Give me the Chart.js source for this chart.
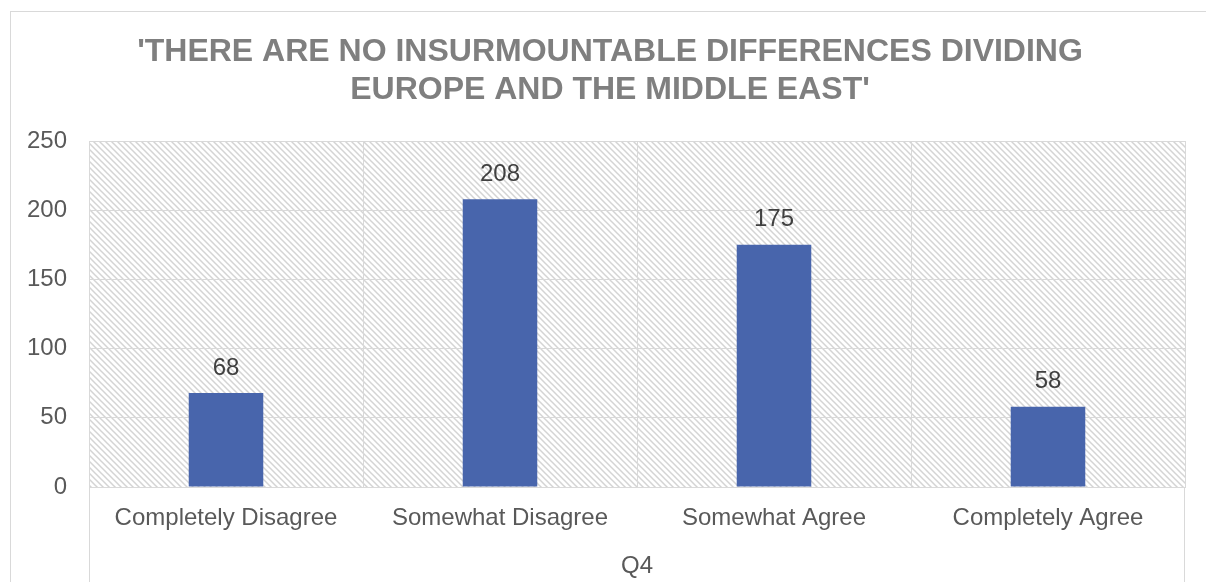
<!DOCTYPE html>
<html>
<head>
<meta charset="utf-8">
<style>
  html, body { margin: 0; padding: 0; background: #ffffff; }
  #wrap { position: relative; width: 1206px; height: 582px; }
</style>
<script src="https://cdn.jsdelivr.net/npm/chart.js@4/dist/chart.umd.min.js"></script>
</head>
<body>
<div id="wrap"><canvas id="chart" width="1206" height="582"></canvas></div>
<script>
// Survey responses for question Q4
const categories = ['Completely Disagree', 'Somewhat Disagree', 'Somewhat Agree', 'Completely Agree'];
const counts = [68, 208, 175, 58];
const yTicks = [0, 50, 100, 150, 200, 250];
const titleLines = ["'THERE ARE NO INSURMOUNTABLE DIFFERENCES DIVIDING", "EUROPE AND THE MIDDLE EAST'"];
const axisTitle = 'Q4';

const FONT = '"Liberation Sans", Arial, sans-serif';
const GRID = '#d9d9d9';

// Diagonal hatch used as the plot-area background
function makeHatch() {
  const size = 6;
  const c = document.createElement('canvas');
  c.width = size; c.height = size;
  const g = c.getContext('2d');
  g.fillStyle = '#ffffff';
  g.fillRect(0, 0, size, size);
  g.strokeStyle = '#d4d4d4';
  g.lineWidth = 1.5;
  g.beginPath();
  g.moveTo(-1, -1); g.lineTo(size + 1, size + 1);
  g.moveTo(-1 - size, -1); g.lineTo(1, size + 1);
  g.moveTo(size - 1, -1); g.lineTo(2 * size + 1, size + 1);
  g.stroke();
  return g.createPattern(c, 'repeat');
}

const frame = {
  id: 'frame',
  beforeDraw(chart) {
    const { ctx, chartArea: a } = chart;
    ctx.save();
    ctx.fillStyle = makeHatch();
    ctx.fillRect(a.left, a.top, a.right - a.left, a.bottom - a.top);
    ctx.restore();
  },
  afterDraw(chart) {
    const { ctx, chartArea: a } = chart;
    ctx.save();
    ctx.strokeStyle = GRID;
    ctx.lineWidth = 1;
    // outer chart border
    ctx.strokeRect(10.5, 11.5, 1400, 800);
    // category group lines continuing below the axis
    const xs = chart.scales.x;
    ctx.beginPath();
    [Math.round(a.left) + 0.5, Math.round(a.right) - 0.5].forEach(px => {
      ctx.moveTo(px, a.bottom);
      ctx.lineTo(px, xs.bottom);
    });
    ctx.stroke();
    // two-line chart title
    ctx.font = 'bold 32px ' + FONT;
    ctx.fillStyle = '#7f7f7f';
    ctx.textAlign = 'center';
    ctx.textBaseline = 'middle';
    titleLines.forEach((line, i) => ctx.fillText(line, 610, 52 + i * 38));
    ctx.restore();
  }
};

const valueLabels = {
  id: 'valueLabels',
  afterDatasetsDraw(chart) {
    const { ctx } = chart;
    const meta = chart.getDatasetMeta(0);
    const data = chart.data.datasets[0].data;
    ctx.save();
    ctx.font = '24px ' + FONT;
    ctx.fillStyle = '#404040';
    ctx.textAlign = 'center';
    ctx.textBaseline = 'middle';
    meta.data.forEach((bar, i) => {
      ctx.fillText(String(data[i]), bar.x, bar.y - 25);
    });
    ctx.restore();
  }
};

new Chart(document.getElementById('chart'), {
  type: 'bar',
  data: {
    labels: categories,
    datasets: [{
      data: counts,
      backgroundColor: '#4865ac',
      borderWidth: 0,
      categoryPercentage: 1,
      barPercentage: 0.272
    }]
  },
  options: {
    responsive: false,
    animation: false,
    events: [],
    layout: { padding: { left: 25, right: 21, top: 141, bottom: 0 } },
    plugins: {
      legend: { display: false },
      tooltip: { enabled: false },
      title: { display: false }
    },
    scales: {
      x: {
        grid: { color: GRID, lineWidth: 1, drawTicks: false, offset: true },
        border: { color: GRID, width: 1 },
        ticks: { color: '#595959', font: { family: FONT, size: 24 }, padding: 17, maxRotation: 0 },
        title: {
          display: true,
          text: axisTitle,
          color: '#595959',
          font: { family: FONT, size: 24, lineHeight: 1.2 },
          padding: { top: 0, bottom: 1 }
        },
        afterFit(scale) { scale.height = 95; }
      },
      y: {
        min: 0,
        max: 250,
        afterBuildTicks(scale) { scale.ticks = yTicks.map(v => ({ value: v })); },
        grid: { color: GRID, lineWidth: 1, drawTicks: false },
        border: { display: false },
        ticks: { color: '#595959', font: { family: FONT, size: 24 }, padding: 22 },
        afterFit(scale) { scale.width = 64; }
      }
    }
  },
  plugins: [frame, valueLabels]
});
</script>
</body>
</html>
